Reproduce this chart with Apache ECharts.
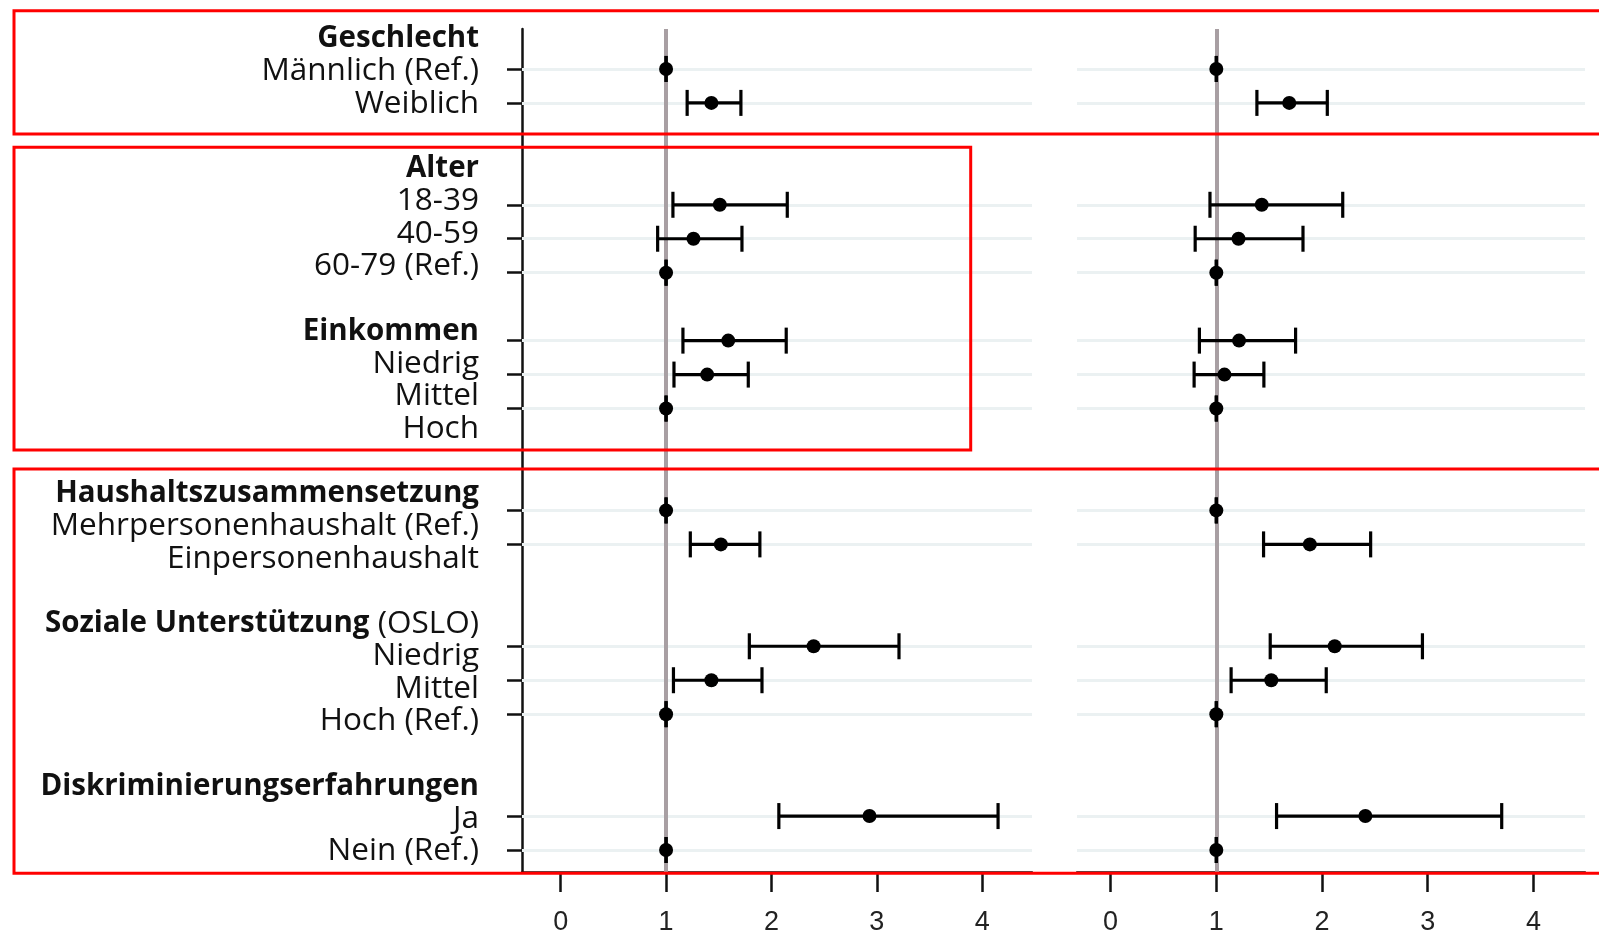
<!DOCTYPE html>
<html>
<head>
<meta charset="utf-8">
<script src="https://cdn.jsdelivr.net/npm/echarts@6/dist/echarts.min.js"></script>
<style>
html,body{margin:0;padding:0;background:#fff;}
#chart{width:1599px;height:936px;}
</style>
</head>
<body>
<div id="chart"></div>
<script>
// ---------- DATA ----------
const groupTitles = ['Geschlecht', 'Alter', 'Einkommen', 'Haushaltszusammensetzung', 'Soziale Unterstützung', 'Diskriminierungserfahrungen'];
const groupTitleSuffix = ['', '', '', '', ' (OSLO)', ''];
const groupItems = [
  ['Männlich (Ref.)', 'Weiblich'],
  ['18-39', '40-59', '60-79 (Ref.)'],
  ['Niedrig', 'Mittel', 'Hoch'],
  ['Mehrpersonenhaushalt (Ref.)', 'Einpersonenhaushalt'],
  ['Niedrig', 'Mittel', 'Hoch (Ref.)'],
  ['Ja', 'Nein (Ref.)']
];
// panel 1 (left)
const est1 = [1, 1.43, 1.51, 1.26, 1, 1.59, 1.39, 1, 1, 1.52, 2.40, 1.43, 1, 2.93, 1];
const low1 = [1, 1.20, 1.065, 0.92, 1, 1.16, 1.075, 1, 1, 1.23, 1.79, 1.07, 1, 2.07, 1];
const high1 = [1, 1.71, 2.15, 1.72, 1, 2.14, 1.78, 1, 1, 1.89, 3.21, 1.91, 1, 4.15, 1];
// panel 2 (right)
const est2 = [1, 1.69, 1.43, 1.21, 1, 1.215, 1.077, 1, 1, 1.885, 2.12, 1.52, 1, 2.41, 1];
const low2 = [1, 1.384, 0.94, 0.80, 1, 0.84, 0.79, 1, 1, 1.447, 1.51, 1.14, 1, 1.57, 1];
const high2 = [1, 2.05, 2.196, 1.82, 1, 1.75, 1.45, 1, 1, 2.46, 2.95, 2.04, 1, 3.70, 1];
const xTickValues = [0, 1, 2, 3, 4];
const refValue = 1;

// ---------- LAYOUT ----------
const plotRow = [0, 1, 4, 5, 6, 8, 9, 10, 13, 14, 17, 18, 19, 22, 23];
const LABEL_FONT = 'Open Sans';

// build label lines (header, items, blank line between groups)
const labelLineText = {};
let line = 0;
groupTitles.forEach((t, g) => {
  labelLineText[line] = '{h|' + t + '}' + (groupTitleSuffix[g] ? '{n|' + groupTitleSuffix[g] + '}' : '');
  line++;
  groupItems[g].forEach(it => { labelLineText[line] = '{n|' + it + '}'; line++; });
  line++;
});
const labelLineIdx = Object.keys(labelLineText).map(Number);

function errData(lo, hi) { return lo.map((l, i) => [l, hi[i], plotRow[i]]); }
function ptData(es) { return es.map((e, i) => [e, plotRow[i]]); }

function renderErr(params, api) {
  const a = api.coord([api.value(0), api.value(2)]);
  const b = api.coord([api.value(1), api.value(2)]);
  const h = 13;
  const st = { stroke: '#000', lineWidth: 3.2 };
  return {
    type: 'group',
    children: [
      { type: 'line', shape: { x1: a[0], y1: a[1], x2: b[0], y2: b[1] }, style: st },
      { type: 'line', shape: { x1: a[0], y1: a[1] - h, x2: a[0], y2: a[1] + h }, style: st },
      { type: 'line', shape: { x1: b[0], y1: b[1] - h, x2: b[0], y2: b[1] + h }, style: st }
    ]
  };
}

function guideLines() {
  const d = plotRow.map(r => ({ yAxis: r, lineStyle: { color: '#ebf1f2', width: 3, type: 'solid' } }));
  d.push({ xAxis: refValue, lineStyle: { color: '#a89fa3', width: 4, type: 'solid' } });
  return { z: 1, silent: true, symbol: ['none', 'none'], label: { show: false }, animation: false, data: d };
}

const xAxisCommon = (grid, min, max) => ({
  type: 'value', gridIndex: grid, min: min, max: max,
  axisLine: { show: true, onZero: false, lineStyle: { color: '#111', width: 2.5 } },
  axisTick: { show: true, customValues: xTickValues, length: 20, lineStyle: { color: '#111', width: 2.5 } },
  axisLabel: { customValues: xTickValues, fontSize: 27, fontFamily: 'Liberation Sans', color: '#222', margin: 37 },
  splitLine: { show: false }
});

const rowMin = -1.176, rowMax = 23.647;

const option = {
  animation: false,
  backgroundColor: '#fff',
  grid: [
    { left: 522, top: 29, width: 510, height: 844 },
    { left: 1077, top: 29, width: 508, height: 844 }
  ],
  xAxis: [xAxisCommon(0, -0.367, 4.472), xAxisCommon(1, -0.318, 4.488)],
  yAxis: [
    {
      type: 'value', gridIndex: 0, inverse: true, min: rowMin, max: rowMax, position: 'left',
      axisLine: { show: true, onZero: false, lineStyle: { color: '#111', width: 2.5 } },
      axisTick: { show: true, customValues: plotRow, length: 15, lineStyle: { color: '#111', width: 2.5 } },
      axisLabel: { show: false }, splitLine: { show: false }
    },
    {
      type: 'value', gridIndex: 0, inverse: true, min: -0.298, max: 25.631, position: 'left',
      axisLine: { show: false }, axisTick: { show: false }, splitLine: { show: false },
      axisLabel: {
        customValues: labelLineIdx, margin: 43,
        formatter: v => labelLineText[Math.round(v)] || '',
        rich: {
          h: { fontFamily: LABEL_FONT, fontSize: 29.5, fontWeight: 'bold', color: '#111' },
          n: { fontFamily: LABEL_FONT, fontSize: 31.5, color: '#111' }
        }
      }
    },
    {
      type: 'value', gridIndex: 1, inverse: true, min: rowMin, max: rowMax,
      axisLine: { show: false }, axisTick: { show: false }, axisLabel: { show: false }, splitLine: { show: false }
    }
  ],
  series: [
    { type: 'scatter', xAxisIndex: 0, yAxisIndex: 0, data: [], z: 1, markLine: guideLines() },
    { type: 'custom', xAxisIndex: 0, yAxisIndex: 0, data: errData(low1, high1), renderItem: renderErr, z: 3 },
    { type: 'scatter', xAxisIndex: 0, yAxisIndex: 0, data: ptData(est1), symbolSize: 14, itemStyle: { color: '#000', opacity: 1 }, z: 4 },
    { type: 'scatter', xAxisIndex: 1, yAxisIndex: 2, data: [], z: 1, markLine: guideLines() },
    { type: 'custom', xAxisIndex: 1, yAxisIndex: 2, data: errData(low2, high2), renderItem: renderErr, z: 3 },
    { type: 'scatter', xAxisIndex: 1, yAxisIndex: 2, data: ptData(est2), symbolSize: 14, itemStyle: { color: '#000', opacity: 1 }, z: 4 }
  ],
  graphic: [
    { type: 'rect', z: 100, shape: { x: 14, y: 10.7, width: 1620, height: 123.3 }, style: { fill: null, stroke: '#ff0000', lineWidth: 3 } },
    { type: 'rect', z: 100, shape: { x: 14, y: 147.3, width: 956.7, height: 302.7 }, style: { fill: null, stroke: '#ff0000', lineWidth: 3 } },
    { type: 'rect', z: 100, shape: { x: 14, y: 469, width: 1620, height: 404.3 }, style: { fill: null, stroke: '#ff0000', lineWidth: 3 } }
  ]
};

const chart = echarts.init(document.getElementById('chart'));
chart.setOption(option);
</script>
</body>
</html>
